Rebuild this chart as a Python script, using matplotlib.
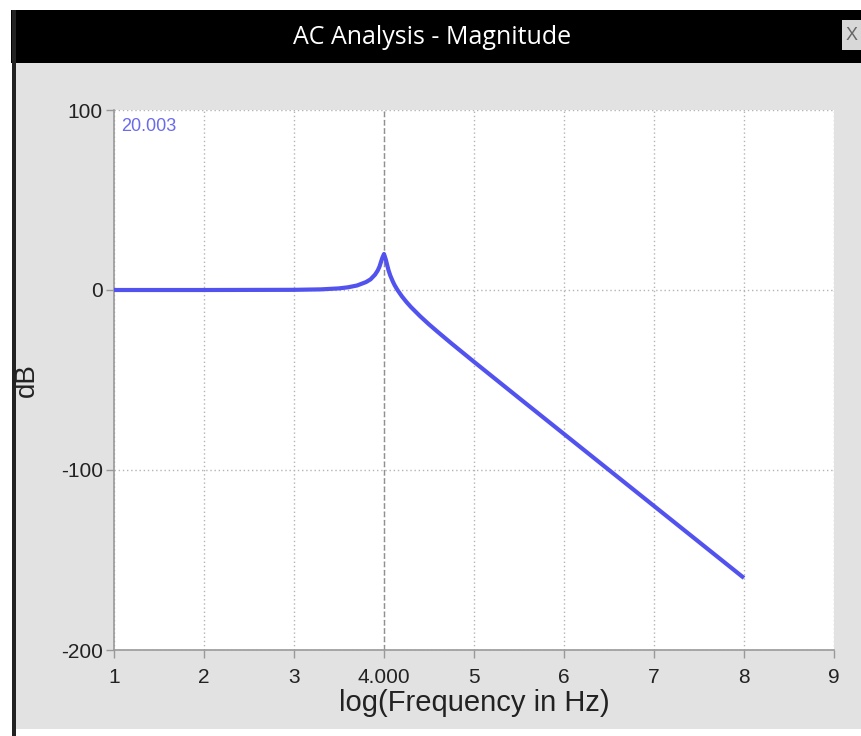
import matplotlib.pyplot as plt
from matplotlib.patches import Rectangle

plt.rcParams['axes.unicode_minus'] = False

# magnitude: log10(f) and dB
logFreq = [1.0, 2.0, 3.0, 3.3, 3.5, 3.6, 3.7, 3.8, 3.85, 3.9, 3.93, 3.95, 3.98,
           4.0, 4.02, 4.05, 4.07, 4.1, 4.12, 4.15, 4.2, 4.25, 4.3, 4.4, 4.5, 4.6,
           4.75, 5.0, 5.5, 6.0, 6.5, 7.0, 7.5, 8.0]
magDb = [0.0, 0.0, 0.1, 0.35, 0.9, 1.5, 2.5, 4.4, 5.9, 8.5, 10.8, 13.0, 17.7,
         20.0, 16.9, 11.0, 8.0, 4.5, 2.5, 0.0, -3.6, -6.7, -9.5, -14.5, -19.1,
         -23.4, -29.7, -39.9, -60.0, -80.0, -100.0, -120.0, -140.0, -160.0]

xTicks = [1, 2, 3, 4, 5, 6, 7, 8, 9]
xTickLabels = ['1', '2', '3', '4.000', '5', '6', '7', '8', '9']
yTicks = [-200, -100, 0, 100]
cursorX = 4.0
cursorLabel = '20.003'

W, H = 862, 736
fig = plt.figure(figsize=(W / 100, H / 100), dpi=100)
fig.patch.set_facecolor('white')


def box(x0, y0, x1, y1, color):
    # pixel coords, y from top
    fig.add_artist(Rectangle((x0 / W, 1 - y1 / H), (x1 - x0) / W, (y1 - y0) / H,
                             transform=fig.transFigure, facecolor=color,
                             edgecolor='none', zorder=0))


box(16, 63, W, 729, '#e2e2e2')
box(11, 10, W, 63, 'black')
box(12, 10, 16, H, '#222222')
box(842, 20, W, 50, '#d8d8d8')
fig.text(852 / W, 1 - 36 / H, 'X', color='#666666', fontsize=13,
         ha='center', va='center', family='Liberation Sans')
fig.text(432 / W, 1 - 38 / H, 'AC Analysis - Magnitude', color='white',
         fontsize=18, ha='center', va='center', family='Open Sans')

ax = fig.add_axes([114 / W, 1 - 650 / H, 720 / W, 540 / H])
ax.set_facecolor('white')
ax.set_xlim(1, 9)
ax.set_ylim(-200, 100)

ax.grid(True, linestyle=(0, (1, 2)), color='#b4b4b4', linewidth=1)
ax.axvline(cursorX, color='#909090', linestyle=(0, (4, 2)), linewidth=1)
ax.plot(logFreq, magDb, color='#5252ee', linewidth=3, solid_capstyle='butt',
        zorder=3)

ax.text(0.01, 0.985, cursorLabel, transform=ax.transAxes, color='#6a6aee',
        fontsize=13, ha='left', va='top', family='Liberation Sans')

ax.set_xticks(xTicks)
ax.set_xticklabels(xTickLabels)
ax.set_yticks(yTicks)
for s in ['top', 'right']:
    ax.spines[s].set_visible(False)
for s in ['left', 'bottom']:
    ax.spines[s].set_color('#999999')
    ax.spines[s].set_linewidth(1.2)
ax.tick_params(colors='#999999', labelcolor='#222222', length=6, width=1,
               labelsize=15)
ax.tick_params(axis='x', pad=7)
ax.tick_params(axis='y', pad=2)
for lbl in ax.get_xticklabels() + ax.get_yticklabels():
    lbl.set_family('Liberation Sans')

ax.set_xlabel('log(Frequency in Hz)', fontsize=21, family='Liberation Sans',
              color='#222222')
ax.xaxis.set_label_coords(0.5, -0.098)
ax.xaxis.label.set_va('center')
ax.set_ylabel('dB', fontsize=20, family='Liberation Sans', color='#222222')
ax.yaxis.set_label_coords(-0.103, 0.5)

fig.savefig('out.png', dpi=100)
